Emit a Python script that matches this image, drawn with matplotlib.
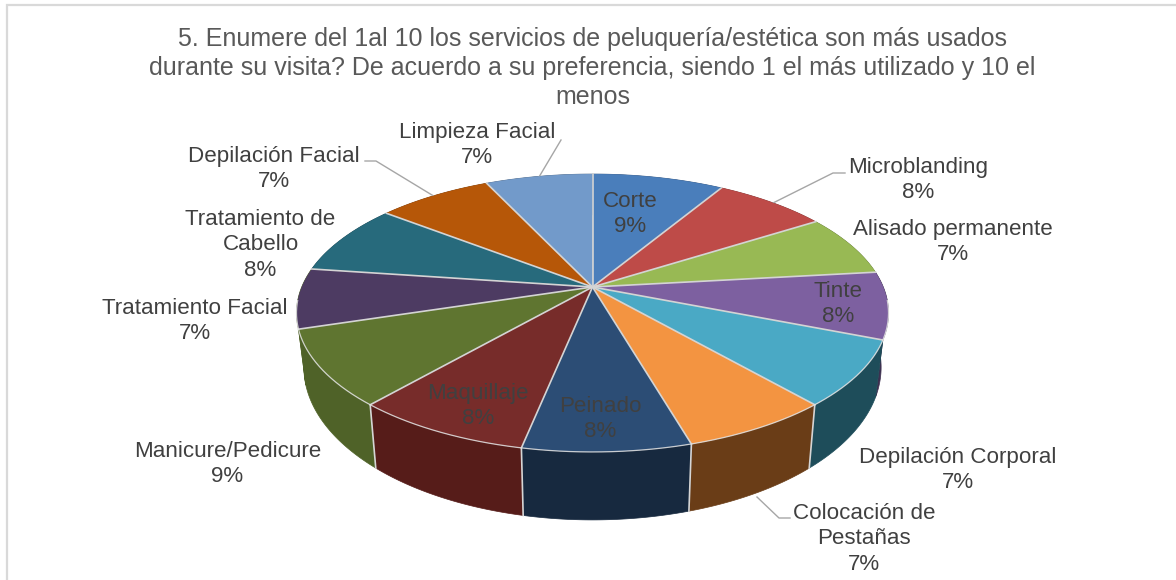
import numpy as np
import matplotlib
matplotlib.use("Agg")
import matplotlib.pyplot as plt
from matplotlib.colors import to_rgb

plt.rcParams['font.family'] = ['Liberation Sans', 'DejaVu Sans']

title = ("5. Enumere del 1al 10 los servicios de peluquería/estética son más usados\n"
         "durante su visita? De acuerdo a su preferencia, siendo 1 el más utilizado y 10 el\n"
         "menos")
categories = ["Corte", "Microblanding", "Alisado permanente", "Tinte", "Depilación Corporal",
              "Colocación de\nPestañas", "Peinado", "Maquillaje", "Manicure/Pedicure",
              "Tratamiento Facial", "Tratamiento de\nCabello", "Depilación Facial", "Limpieza Facial"]
values = [8.6, 7.4, 7.2, 7.8, 7.6, 6.9, 7.7, 8.2, 8.8, 7.0, 8.3, 7.5, 7.0]
percent_labels = [9, 8, 7, 8, 7, 7, 8, 8, 9, 7, 8, 7, 7]
top_colors = ["#4a7ebb", "#be4b48", "#98b954", "#7d60a0", "#4aa9c5", "#f39441", "#2c4d75",
              "#772c2a", "#5f7530", "#4d3b62", "#276a7c", "#b65708", "#729aca"]
side_colors = ["#345885", "#853533", "#6b823b", "#3d3050", "#1e4d5a", "#6a3d17", "#17293f",
               "#561c19", "#4f6228", "#4f6228", "#1b4a57", "#803d06", "#506c8d"]
label_pos = [(630, 214), (918.5, 180), (952.5, 242), (838, 304), (957.5, 470), (864, 539), (600, 419),
             (478, 406), (227.5, 464), (195, 321), (260.5, 245), (274, 169), (477, 145)]

CX, CY, K, A, B = 592.5, 287.0, 0.187, 134.1, 290.8


def top_rim(theta):
    """Perspective projection of the disc's edge; theta is clockwise from 12 o'clock."""
    u, v = np.sin(theta), np.cos(theta)
    w = 1 + K * v
    return B * u / w, -A * v / w


def bottom_rim(theta):
    x, y = top_rim(theta)
    return CX + 0.975 * x, CY + 51.8 + 1.098 * y


fig = plt.figure(figsize=(11.76, 5.8), dpi=100, facecolor="white")
ax = fig.add_axes([0, 0, 1, 1])
ax.set_xlim(0, 1176)
ax.set_ylim(580, 0)
ax.axis("off")

# frame
ax.plot([7, 7, 1176], [580, 4.5, 4.5], color="#d9d9d9", lw=1.6, solid_joinstyle="miter", zorder=1)

edges = np.concatenate([[0], np.cumsum(values)]) / np.sum(values) * 2 * np.pi

# side wall
for i in range(len(values)):
    t = np.linspace(edges[i], edges[i + 1], 60)
    x0, y0 = top_rim(t)
    x1, y1 = bottom_rim(t)
    ax.fill(np.r_[CX + x0, x1[::-1]], np.r_[CY + y0, y1[::-1]], facecolor=side_colors[i],
            edgecolor=side_colors[i], linewidth=0.5, zorder=2)

for e in edges[:-1]:
    if np.cos(e) < -0.5:
        x0, y0 = top_rim(e)
        x1, y1 = bottom_rim(e)
        ax.plot([CX + x0, x1], [CY + y0, y1], color="#d5d5d5", lw=1.2, zorder=3)

# top faces
for i in range(len(values)):
    t = np.linspace(edges[i], edges[i + 1], 60)
    x, y = top_rim(t)
    ax.fill(np.r_[CX, CX + x], np.r_[CY, CY + y], facecolor=top_colors[i], edgecolor="none", zorder=4)

for e in edges[:-1]:
    x, y = top_rim(e)
    ax.plot([CX, CX + x], [CY, CY + y], color="#d4d4d4", lw=1.2, zorder=5)

t = np.linspace(np.pi / 2 + 0.1, 3 * np.pi / 2 - 0.1, 300)
x, y = top_rim(t)
ax.plot(CX + x, CY + y, color="#e4e4e4", lw=0.9, alpha=0.85, zorder=5)

# leader lines
for xs, ys in [([561, 539], [140, 177]),
               ([365, 376, 433.6], [161, 161, 196]),
               ([845, 833, 773], [173, 173, 203]),
               ([790, 779, 757], [518, 518, 497])]:
    ax.plot(xs, ys, color="#a6a6a6", lw=1.0, zorder=3)

# text
ax.text(592.5, 68, title, ha="center", va="center", fontsize=17.97, color="#595959", linespacing=1.24, zorder=6)
for name, pct, (lx, ly) in zip(categories, percent_labels, label_pos):
    ax.text(lx, ly, f"{name}\n{pct}%", ha="center", va="center", fontsize=16.1, color="#404040",
            linespacing=1.29, zorder=6)

fig.savefig("out.png", dpi=100)
